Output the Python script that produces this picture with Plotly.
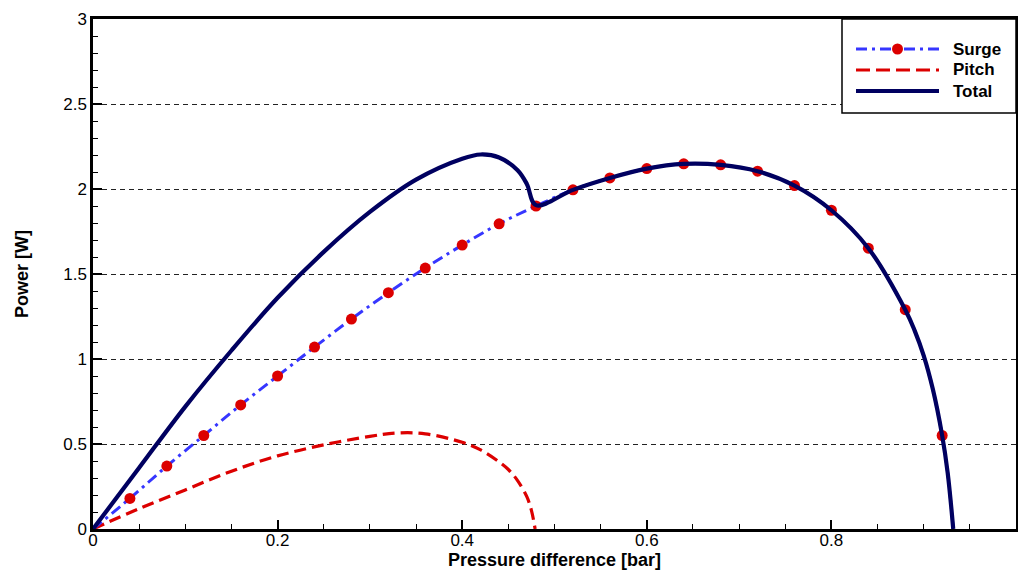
import plotly.graph_objects as go

# ---- data ----
surge_x = [0.04, 0.08, 0.12, 0.16, 0.20, 0.24, 0.28, 0.32, 0.36, 0.40, 0.44, 0.48,
           0.52, 0.56, 0.60, 0.64, 0.68, 0.72, 0.76, 0.80, 0.84, 0.88, 0.92]
surge_p = [0.18, 0.37, 0.55, 0.73, 0.90, 1.07, 1.235, 1.39, 1.535, 1.67, 1.795, 1.90,
           1.995, 2.065, 2.12, 2.148, 2.142, 2.105, 2.02, 1.875, 1.652, 1.29, 0.55]
# line ends (start at origin, steep drop after last marker)
surge_line_x = [0.0] + surge_x[:-1] + [0.89, 0.90, 0.91, 0.92, 0.926, 0.932]
surge_line_p = [0.0] + surge_p[:-1] + [1.17, 1.02, 0.82, 0.55, 0.33, 0.0]

pitch_x = [0.0, 0.05, 0.10, 0.15, 0.20, 0.25, 0.30, 0.33, 0.36, 0.40, 0.42, 0.44,
           0.45, 0.46, 0.47, 0.475, 0.479]
pitch_p = [0.0, 0.12, 0.23, 0.34, 0.43, 0.495, 0.545, 0.565, 0.56, 0.51, 0.465, 0.395,
           0.35, 0.285, 0.19, 0.11, 0.0]

total_x = [0.0, 0.05, 0.10, 0.15, 0.20, 0.25, 0.30, 0.35, 0.40, 0.42, 0.44, 0.46,
           0.47, 0.48, 0.52, 0.56, 0.60, 0.64, 0.68, 0.72, 0.76, 0.80, 0.84, 0.88,
           0.89, 0.90, 0.91, 0.92, 0.926, 0.932]
total_p = [0.0, 0.36, 0.72, 1.05, 1.36, 1.63, 1.865, 2.055, 2.178, 2.203, 2.185, 2.11,
           2.03, 1.905, 1.995, 2.065, 2.12, 2.148, 2.142, 2.105, 2.02, 1.875, 1.652, 1.29,
           1.17, 1.02, 0.82, 0.55, 0.33, 0.0]

series_names = ["Surge", "Pitch", "Total"]
x_ticks = [0, 0.2, 0.4, 0.6, 0.8, 1]
x_tick_labels = ["0", "0.2", "0.4", "0.6", "0.8", "1"]
y_ticks = [0, 0.5, 1, 1.5, 2, 2.5, 3]
y_tick_labels = ["0", "0.5", "1", "1.5", "2", "2.5", "3"]

BLUE = "#3636ff"
RED = "#dc0000"
NAVY = "#000060"
FONT = "Liberation Sans, Arial, sans-serif"

fig = go.Figure()
fig.add_trace(go.Scatter(x=pitch_x, y=pitch_p, mode="lines", name=series_names[1],
                         line=dict(color=RED, width=3.2, dash="12px,6px", shape="spline", smoothing=1.0),
                         showlegend=False))
fig.add_trace(go.Scatter(x=surge_line_x, y=surge_line_p, mode="lines", name=series_names[0],
                         line=dict(color=BLUE, width=3, dash="11px,5px,3px,5px", shape="spline", smoothing=1.0),
                         showlegend=False))
fig.add_trace(go.Scatter(x=surge_x, y=surge_p, mode="markers", name=series_names[0],
                         marker=dict(color=RED, size=11, line=dict(width=0)),
                         showlegend=False))
fig.add_trace(go.Scatter(x=total_x, y=total_p, mode="lines", name=series_names[2],
                         line=dict(color=NAVY, width=4.2, shape="spline", smoothing=1.0),
                         showlegend=False))

L, R, T, B = 93, 2, 19, 47
W, H = 1018, 576
pw, ph = W - L - R, H - T - B

def px(xp):
    return (xp - L) / pw

def py(yp):
    return (H - B - yp) / ph

axis_common = dict(
    showline=True, linecolor="black", linewidth=2.5, mirror=True,
    ticks="inside", tickcolor="black", tickwidth=2, ticklen=9,
    tickfont=dict(family=FONT, size=17, color="black"),
    zeroline=False,
)

fig.update_xaxes(range=[0, 1], tickvals=x_ticks, ticktext=x_tick_labels, showgrid=False,
                 ticklabelstandoff=-6,
                 minor=dict(dtick=0.05, ticks="inside", ticklen=5, tickwidth=1, tickcolor="black", showgrid=False),
                 title=dict(text="<b>Pressure difference [bar]</b>", font=dict(family=FONT, size=18, color="black"),
                            standoff=4),
                 **axis_common)
fig.update_yaxes(range=[0, 3], tickvals=y_ticks, ticktext=y_tick_labels, showgrid=True,
                 gridcolor="#222222", gridwidth=1, griddash="5px,4px",
                 minor=dict(dtick=0.1, ticks="inside", ticklen=5, tickwidth=1, tickcolor="black", showgrid=False),
                 title=dict(text="<b>Power [W]</b>", font=dict(family=FONT, size=18, color="black"),
                            standoff=30),
                 **axis_common)

# ---- legend drawn manually (box, line samples, labels) ----
shapes = [dict(type="rect", xref="paper", yref="paper", x0=px(842), x1=1.0, y0=py(113), y1=1.0,
               fillcolor="white", line=dict(color="black", width=1.5), layer="above")]
rows = [49, 70, 91]
styles = [dict(color=BLUE, width=3, dash="11px,5px,3px,5px"),
          dict(color=RED, width=3.2, dash="14px,6px"),
          dict(color=NAVY, width=4.2)]
for r, st in zip(rows, styles):
    shapes.append(dict(type="line", xref="paper", yref="paper", x0=px(856), x1=px(939),
                       y0=py(r), y1=py(r), line=st, layer="above"))
shapes.append(dict(type="circle", xref="paper", yref="paper", xsizemode="pixel", ysizemode="pixel",
                   xanchor=px(897.5), yanchor=py(rows[0]), x0=-5.5, x1=5.5, y0=-5.5, y1=5.5,
                   fillcolor=RED, line=dict(width=0), layer="above"))
annotations = []
for r, name in zip(rows, series_names):
    annotations.append(dict(xref="paper", yref="paper", x=px(951), y=py(r), xanchor="left", yanchor="middle",
                            text="<b>%s</b>" % name, showarrow=False,
                            font=dict(family=FONT, size=17, color="black")))

fig.update_layout(width=W, height=H, margin=dict(l=L, r=R, t=T, b=B, autoexpand=False),
                  paper_bgcolor="white", plot_bgcolor="white",
                  shapes=shapes, annotations=annotations, showlegend=False)

fig.write_html("out.html")
